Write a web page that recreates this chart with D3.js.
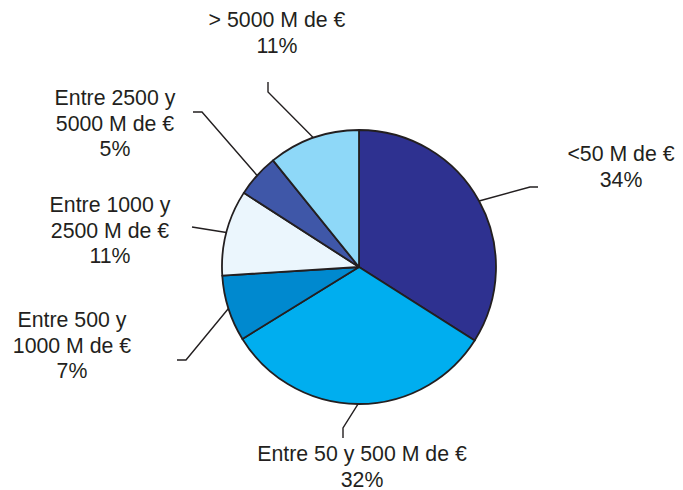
<!DOCTYPE html>
<html>
<head>
<meta charset="utf-8">
<script src="https://cdn.jsdelivr.net/npm/d3@7"></script>
<style>
  body { margin: 0; background: #fff; }
  svg { display: block; }
  .lbl { font-family: "Liberation Sans", Arial, sans-serif; font-size: 21.3px; fill: #231f20; }
</style>
</head>
<body>
<svg id="chart" width="683" height="490"></svg>
<script>
// data
const categories = ["<50 M de €", "Entre 50 y 500 M de €", "Entre 500 y 1000 M de €",
  "Entre 1000 y 2500 M de €", "Entre 2500 y 5000 M de €", "> 5000 M de €"];
const values = [34.0, 32.2, 7.8, 10.1, 5.1, 10.8];
const pctLabels = ["34%", "32%", "7%", "11%", "5%", "11%"];
const labelLines = [
  ["<50 M de €"],
  ["Entre 50 y 500 M de €"],
  ["Entre 500 y", "1000 M de €"],
  ["Entre 1000 y", "2500 M de €"],
  ["Entre 2500 y", "5000 M de €"],
  ["> 5000 M de €"]
];
const colors = ["#2e3190", "#00aeef", "#0089cf", "#ebf6fd", "#3f57a8", "#8ed8f8"];

// label placement (leader elbow / end, text anchor)
const layout = [
  { elbow: [530, 187], end: [538, 187], tx: 621, ty: 161 },
  { elbow: [343, 428], end: [343, 438], tx: 362, ty: 461 },
  { elbow: [186, 360], end: [177, 360], tx: 72, ty: 327 },
  { elbow: null, end: [192, 227], tx: 110, ty: 212 },
  { elbow: [202, 112], end: [193, 112], tx: 115, ty: 105 },
  { elbow: [268, 92], end: [268, 82], tx: 277, ty: 27 }
];
const lineGap = 25.5;

const svg = d3.select("#chart");
const cx = 359, cy = 267, r = 137;

const pie = d3.pie().sort(null).value(d => d);
const arcs = pie(values);
const arc = d3.arc().innerRadius(0).outerRadius(r);
const edge = d3.arc().innerRadius(r).outerRadius(r);

const g = svg.append("g").attr("transform", `translate(${cx},${cy})`);

g.selectAll("path.slice")
  .data(arcs)
  .join("path")
  .attr("class", "slice")
  .attr("d", arc)
  .attr("fill", (d, i) => colors[i])
  .attr("stroke", "#231f20")
  .attr("stroke-width", 1.8)
  .attr("stroke-linejoin", "round");

// leader lines
const line = d3.line();
svg.selectAll("path.leader")
  .data(arcs)
  .join("path")
  .attr("class", "leader")
  .attr("d", (d, i) => {
    const c = edge.centroid(d);
    const pts = [[cx + c[0], cy + c[1]]];
    if (layout[i].elbow) pts.push(layout[i].elbow);
    pts.push(layout[i].end);
    return line(pts);
  })
  .attr("fill", "none")
  .attr("stroke", "#231f20")
  .attr("stroke-width", 1.4);

// labels
const labels = svg.selectAll("text.lbl")
  .data(arcs)
  .join("text")
  .attr("class", "lbl")
  .attr("text-anchor", "middle");

labels.each(function(d, i) {
  const t = d3.select(this);
  const lines = labelLines[i].concat([pctLabels[i]]);
  lines.forEach((s, k) => {
    t.append("tspan")
      .attr("x", layout[i].tx)
      .attr("y", layout[i].ty + k * lineGap)
      .text(s);
  });
});
</script>
</body>
</html>
